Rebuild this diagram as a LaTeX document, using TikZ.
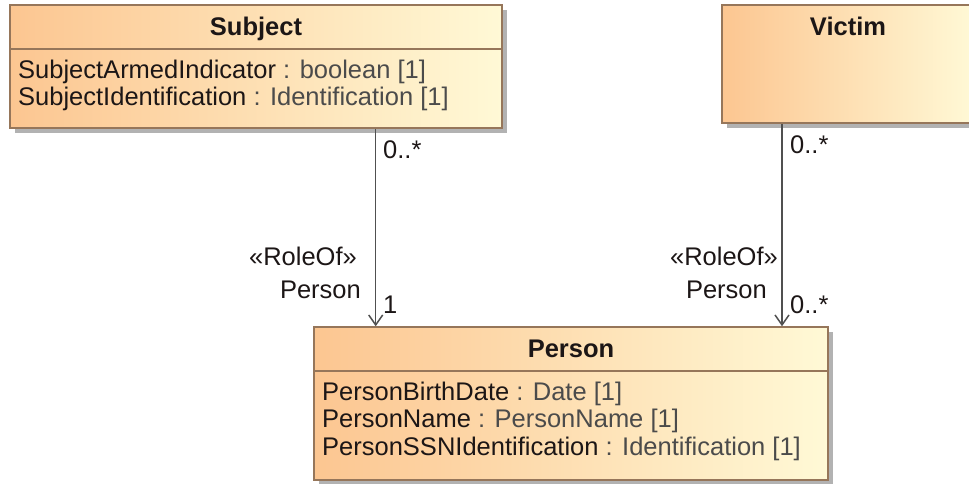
\documentclass[tikz,border=0pt]{standalone}
\usepackage{fontspec}
\setmainfont{Liberation Sans}
\usetikzlibrary{arrows.meta}
\definecolor{orangeL}{RGB}{252,198,145}
\definecolor{yellowR}{RGB}{255,249,214}
\definecolor{umlborder}{RGB}{150,118,90}
\definecolor{shadowc}{RGB}{178,178,178}
\definecolor{linec}{RGB}{80,80,80}
\definecolor{typec}{RGB}{75,75,75}
\definecolor{textc}{RGB}{28,22,22}
\begin{document}
\begin{tikzpicture}[x=1pt,y=-1pt,
  classbox/.style={draw=umlborder, line width=1.5pt, left color=orangeL, right color=yellowR, rectangle, inner sep=0pt},
  header/.style={font=\fontsize{25.5}{30}\selectfont\bfseries, text=textc, inner sep=0pt, anchor=base},
  attr/.style={font=\fontsize{25.5}{30}\selectfont, text=textc, inner sep=0pt, anchor=base west},
  lbl/.style={font=\fontsize{25.5}{30}\selectfont, text=textc, inner sep=0pt},
  assoc/.style={draw=linec, line width=1.5pt, -{Straight Barb[length=10pt,width=14pt,line width=1.5pt]}}
]
\useasboundingbox (0,0) rectangle (969,483);
% shadows
\fill[shadowc] (15,10) rectangle (507,133);
\fill[shadowc] (727,10) rectangle (979,128);
\fill[shadowc] (319,332) rectangle (833,485);
% class boxes
\node[classbox, minimum width=492pt, minimum height=123pt] (subject) at (256,66.5) {};
\node[classbox, minimum width=252pt, minimum height=118pt] (victim) at (848,64) {};
\node[classbox, minimum width=514pt, minimum height=153pt] (person) at (571,403.5) {};
% compartment dividers
\draw[umlborder, line width=1.5pt] (subject.west |- 0,49) -- (subject.east |- 0,49);
\draw[umlborder, line width=1.5pt] (person.west |- 0,371) -- (person.east |- 0,371);
% headers
\node[header] (subjectname) at (256,35) {Subject};
\node[header] (victimname) at (848,35) {Victim};
\node[header] (personname) at (571,357) {Person};
% attributes
\node[attr] (sa1) at (18,78) {SubjectArmedIndicator{} \textcolor{typec}{: boolean [1]}};
\node[attr] (sa2) at (18,105.5) {SubjectIdentification{} \textcolor{typec}{: Identification [1]}};
\node[attr] (pa1) at (322,400) {PersonBirthDate{} \textcolor{typec}{: Date [1]}};
\node[attr] (pa2) at (322,427.5) {PersonName{} \textcolor{typec}{: PersonName [1]}};
\node[attr] (pa3) at (322,455) {PersonSSNIdentification{} \textcolor{typec}{: Identification [1]}};
% connectors
\coordinate (sx) at (375.7,0);
\coordinate (vx) at (782,0);
\draw[assoc] (sx |- subject.south) -- (sx |- person.north);
\draw[assoc] (vx |- victim.south) -- (vx |- person.north);
% association end labels
\node[lbl, anchor=base west] (s0) at (383,158) {0..*};
\node[lbl, anchor=base east] (sr) at (357,265) {«RoleOf»};
\node[lbl, anchor=base east] (sp) at (361,298) {Person};
\node[lbl, anchor=base west] (s1) at (383,313) {1};
\node[lbl, anchor=base west] (v0) at (790,153) {0..*};
\node[lbl, anchor=base east] (vr) at (778,265) {«RoleOf»};
\node[lbl, anchor=base east] (vp) at (767,298) {Person};
\node[lbl, anchor=base west] (v1) at (790,313) {0..*};
\end{tikzpicture}
\end{document}
